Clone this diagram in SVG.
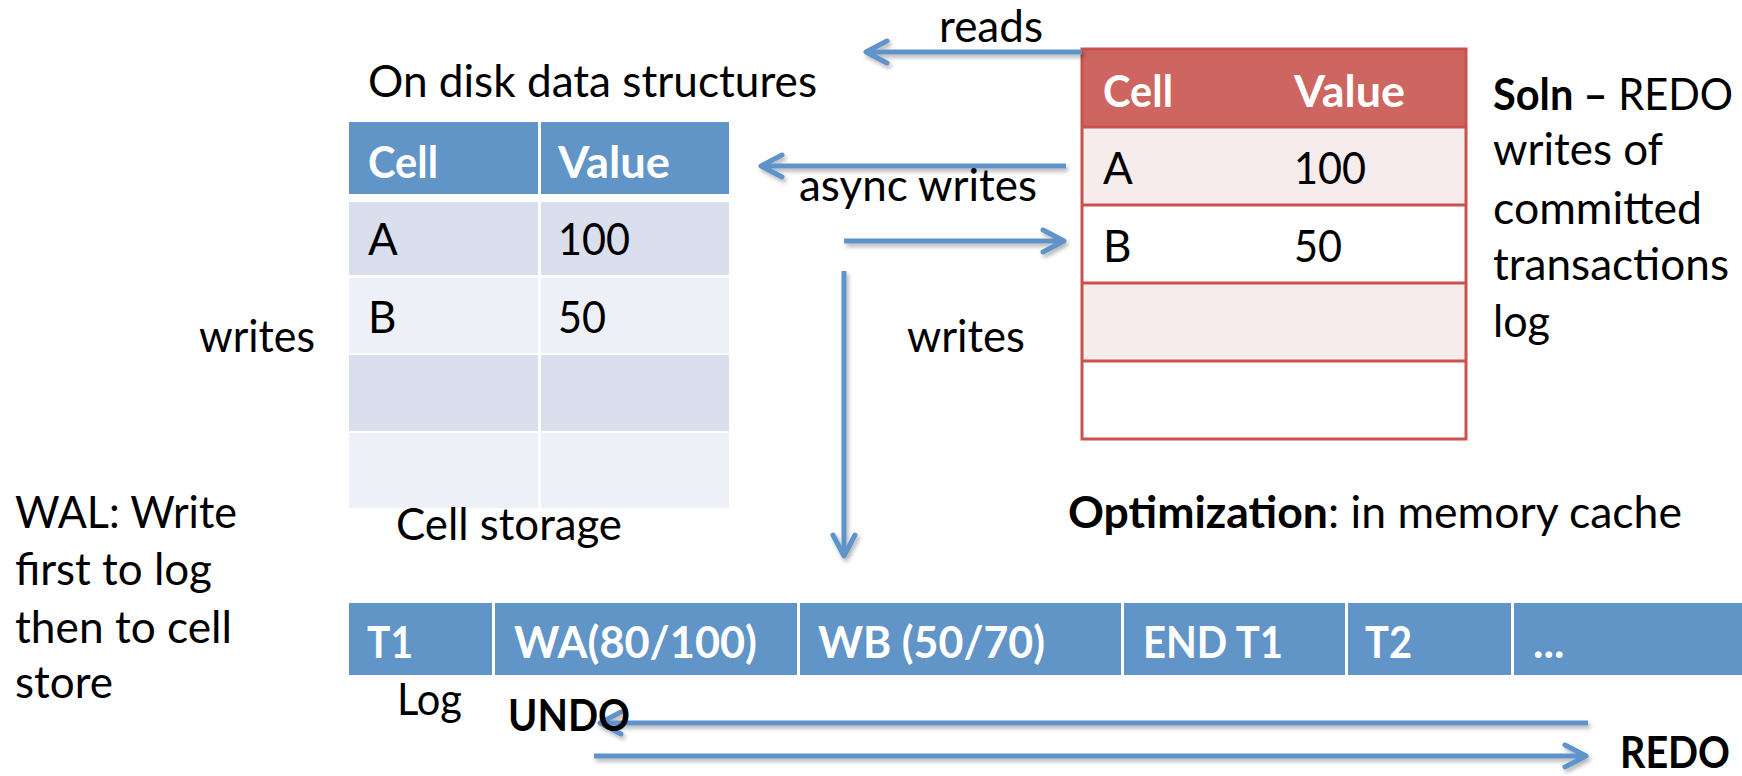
<svg xmlns="http://www.w3.org/2000/svg" width="1742" height="776" viewBox="0 0 1742 776">
  <style>
    text { font-family: Lato, "Open Sans", "Liberation Sans", sans-serif; font-size: 44px; fill: #000; }
    .b { font-weight: 700; }
    .w { fill: #fff; font-weight: 700; }
    .bh { fill: #6195c8; }
    .bd { fill: #d9dfed; }
    .bl { fill: #edf0f6; }
    .rh { fill: #cd6661; }
    .rp { fill: #f5eceb; }
    .rw { fill: #ffffff; }
    .rline { stroke: #c9524e; stroke-width: 3; fill: none; }
    .conn { stroke: #5e93c9; stroke-width: 5; fill: none; }
  </style>
  <defs>
    <marker id="arrow" markerUnits="userSpaceOnUse" viewBox="-26 -16 32 32" refX="0" refY="0" markerWidth="32" markerHeight="32" orient="auto" overflow="visible">
      <path d="M-21,-11 L0,0 L-21,11" fill="none" stroke="#5e93c9" stroke-width="5" stroke-linecap="round" stroke-linejoin="round"/>
    </marker>
    <filter id="shadow" x="-5%" y="-50%" width="110%" height="200%">
      <feDropShadow dx="2" dy="3" stdDeviation="2" flood-color="#000" flood-opacity="0.3"/>
    </filter>
  </defs>

  <rect width="1742" height="776" fill="#fff"/>

  <!-- On-disk cell storage table -->
  <g id="cell-storage">
    <text x="368" y="97" textLength="449" lengthAdjust="spacingAndGlyphs">On disk data structures</text>
    <rect class="bh" x="349" y="122" width="189" height="72"/>
    <rect class="bh" x="541" y="122" width="188" height="72"/>
    <rect class="bd" x="349" y="202" width="189" height="73"/>
    <rect class="bd" x="541" y="202" width="188" height="73"/>
    <rect class="bl" x="349" y="278" width="189" height="75"/>
    <rect class="bl" x="541" y="278" width="188" height="75"/>
    <rect class="bd" x="349" y="355" width="189" height="76"/>
    <rect class="bd" x="541" y="355" width="188" height="76"/>
    <rect class="bl" x="349" y="433" width="189" height="75"/>
    <rect class="bl" x="541" y="433" width="188" height="75"/>
    <text class="w" x="368" y="178" textLength="70" lengthAdjust="spacingAndGlyphs">Cell</text>
    <text class="w" x="558" y="178" textLength="112" lengthAdjust="spacingAndGlyphs">Value</text>
    <text x="368" y="255">A</text>
    <text x="558" y="255" textLength="72" lengthAdjust="spacingAndGlyphs">100</text>
    <text x="368" y="333">B</text>
    <text x="558" y="333" textLength="48" lengthAdjust="spacingAndGlyphs">50</text>
    <text x="396" y="540" textLength="226" lengthAdjust="spacingAndGlyphs">Cell storage</text>
  </g>

  <!-- In-memory cache table -->
  <g id="memory-cache">
    <rect class="rh" x="1082" y="49" width="384" height="78"/>
    <rect class="rp" x="1082" y="127" width="384" height="78"/>
    <rect class="rw" x="1082" y="205" width="384" height="78"/>
    <rect class="rp" x="1082" y="283" width="384" height="78"/>
    <rect class="rw" x="1082" y="361" width="384" height="78"/>
    <path class="rline" d="M1082,127 H1466 M1082,205 H1466 M1082,283 H1466 M1082,361 H1466"/>
    <rect class="rline" x="1082" y="49" width="384" height="390"/>
    <text class="w" x="1103" y="107" textLength="70" lengthAdjust="spacingAndGlyphs">Cell</text>
    <text class="w" x="1294" y="107" textLength="111" lengthAdjust="spacingAndGlyphs">Value</text>
    <text x="1103" y="184">A</text>
    <text x="1294" y="184" textLength="72" lengthAdjust="spacingAndGlyphs">100</text>
    <text x="1103" y="262">B</text>
    <text x="1294" y="262" textLength="48" lengthAdjust="spacingAndGlyphs">50</text>
  </g>

  <!-- Write-ahead log -->
  <g id="log">
    <rect class="bh" x="349" y="603" width="143" height="72"/>
    <rect class="bh" x="495" y="603" width="302" height="72"/>
    <rect class="bh" x="800" y="603" width="321" height="72"/>
    <rect class="bh" x="1124" y="603" width="221" height="72"/>
    <rect class="bh" x="1348" y="603" width="163" height="72"/>
    <rect class="bh" x="1514" y="603" width="228" height="72"/>
    <text class="w" x="367" y="658" textLength="46" lengthAdjust="spacingAndGlyphs">T1</text>
    <text class="w" x="514" y="658" textLength="243" lengthAdjust="spacingAndGlyphs">WA(80/100)</text>
    <text class="w" x="818" y="658" textLength="227" lengthAdjust="spacingAndGlyphs">WB (50/70)</text>
    <text class="w" x="1143" y="658" textLength="140" lengthAdjust="spacingAndGlyphs">END T1</text>
    <text class="w" x="1365" y="658" textLength="47" lengthAdjust="spacingAndGlyphs">T2</text>
    <text class="w" x="1533" y="658">...</text>
    <text x="397" y="715" textLength="65" lengthAdjust="spacingAndGlyphs">Log</text>
  </g>

  <!-- Arrows -->
  <g id="connectors" class="conn" filter="url(#shadow)">
    <path d="M1082,52 H866" marker-end="url(#arrow)"/>
    <path d="M1066,166 H761" marker-end="url(#arrow)"/>
    <path d="M844,241 H1064" marker-end="url(#arrow)"/>
    <path d="M844,271 V556" marker-end="url(#arrow)"/>
    <path d="M1588,723 H600" marker-end="url(#arrow)"/>
    <path d="M594,756 H1586" marker-end="url(#arrow)"/>
  </g>

  <!-- Arrow labels and notes -->
  <g id="labels">
    <text x="939" y="42" textLength="104" lengthAdjust="spacingAndGlyphs">reads</text>
    <text x="799" y="201" textLength="238" lengthAdjust="spacingAndGlyphs">async writes</text>
    <text x="907" y="352" textLength="118" lengthAdjust="spacingAndGlyphs">writes</text>
    <text x="199" y="352" textLength="116" lengthAdjust="spacingAndGlyphs">writes</text>
    <text class="b" x="508" y="731" textLength="122" lengthAdjust="spacingAndGlyphs">UNDO</text>
    <text class="b" x="1620" y="768" font-size="42" textLength="110" lengthAdjust="spacingAndGlyphs">REDO</text>
  </g>

  <g id="note-wal">
    <text x="15" y="528" textLength="222" lengthAdjust="spacingAndGlyphs">WAL: Write</text>
    <text x="15" y="585" textLength="197" lengthAdjust="spacingAndGlyphs">first to log</text>
    <text x="15" y="643" textLength="217" lengthAdjust="spacingAndGlyphs">then to cell</text>
    <text x="15" y="698" textLength="98" lengthAdjust="spacingAndGlyphs">store</text>
  </g>

  <g id="note-soln">
    <text x="1493" y="110" textLength="240" lengthAdjust="spacingAndGlyphs"><tspan class="b">Soln –</tspan> REDO</text>
    <text x="1493" y="165" textLength="170" lengthAdjust="spacingAndGlyphs">writes of</text>
    <text x="1493" y="224" textLength="209" lengthAdjust="spacingAndGlyphs">committed</text>
    <text x="1493" y="280" textLength="236" lengthAdjust="spacingAndGlyphs">transactions</text>
    <text x="1493" y="337" textLength="57" lengthAdjust="spacingAndGlyphs">log</text>
  </g>

  <g id="note-optimization">
    <text x="1068" y="528" textLength="614" lengthAdjust="spacingAndGlyphs"><tspan class="b">Optimization</tspan>: in memory cache</text>
  </g>
</svg>
